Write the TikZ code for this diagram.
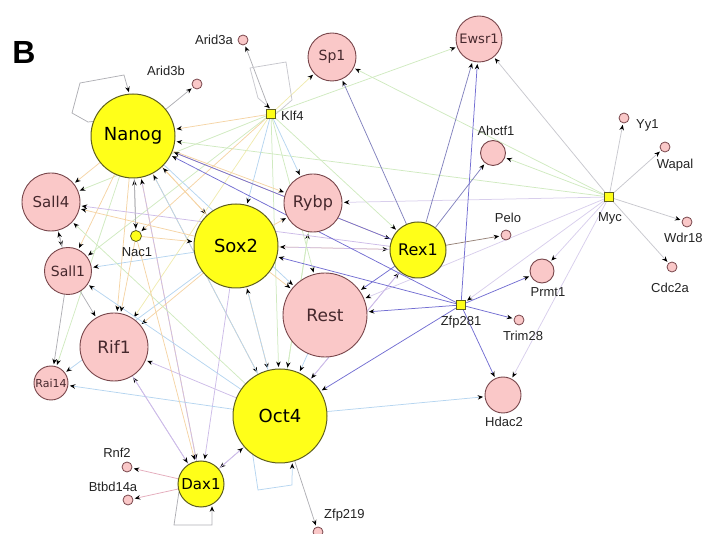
\documentclass[tikz,border=0pt]{standalone}
\usepackage{fontspec}
\setmainfont{DejaVu Sans}
\newfontfamily\smallf{Liberation Sans}
\usetikzlibrary{arrows.meta,backgrounds}
\definecolor{ny}{RGB}{255,255,25}
\definecolor{nyb}{RGB}{95,95,30}
\definecolor{np}{RGB}{250,200,200}
\definecolor{npb}{RGB}{120,70,75}
\definecolor{ntxt}{RGB}{70,40,45}
\definecolor{oE}{RGB}{245,212,165}
\definecolor{bE}{RGB}{182,213,240}
\definecolor{gE}{RGB}{208,234,192}
\definecolor{pE}{RGB}{115,110,210}
\definecolor{mE}{RGB}{130,130,190}
\definecolor{lE}{RGB}{205,188,232}
\definecolor{gyE}{RGB}{175,175,180}
\definecolor{mg}{RGB}{200,200,206}
\definecolor{ml}{RGB}{216,206,236}
\definecolor{yE}{RGB}{240,235,175}
\definecolor{rE}{RGB}{228,172,188}
\definecolor{bnE}{RGB}{150,130,120}
\tikzset{
  ynode/.style={circle, draw=nyb, fill=ny, line width=1pt, inner sep=0pt, text=black},
  pnode/.style={circle, draw=npb, fill=np, line width=0.9pt, inner sep=0pt, text=ntxt},
  smallc/.style={circle, draw=npb, fill=np, line width=0.8pt, minimum size=10pt, inner sep=0pt},
  ysq/.style={rectangle, draw=nyb, fill=ny, line width=0.8pt, minimum size=9pt, inner sep=0pt},
  ycirc/.style={circle, draw=nyb, fill=ny, line width=0.8pt, minimum size=11pt, inner sep=0pt},
  lab/.style={font=\smallf\fontsize{13}{13}\selectfont, text={rgb,255:red,35;green,35;blue,35}, inner sep=0pt},
  e/.style={line width=0.75pt, -{Stealth[length=5.5pt,width=4.5pt,black]}, shorten >=1.5pt},
  fs/.style={font=\fontsize{#1}{#1}\selectfont}
}
\begin{document}
\begin{tikzpicture}[x=1pt,y=-1pt]
\useasboundingbox (0,0) rectangle (702,534);
% big nodes
\node[ynode, minimum size=84pt, fs=18] (Nanog) at (133,136) {Nanog};
\node[ynode, minimum size=84pt, fs=18] (Sox2) at (236,246) {Sox2};
\node[ynode, minimum size=94pt, fs=18] (Oct4) at (280,416) {Oct4};
\node[ynode, minimum size=46pt, fs=15] (Dax1) at (201,484) {Dax1};
\node[ynode, minimum size=56pt, fs=16] (Rex1) at (418,250) {Rex1};
\node[pnode, minimum size=84pt, fs=17] (Rest) at (325,315) {Rest};
\node[pnode, minimum size=58pt, fs=16] (Rybp) at (313,203) {Rybp};
\node[pnode, minimum size=48pt, fs=14] (Sp1) at (332,57) {Sp1};
\node[pnode, minimum size=46pt, fs=13] (Ewsr1) at (479,39) {Ewsr1};
\node[pnode, minimum size=58pt, fs=15] (Sall4) at (51,202) {Sall4};
\node[pnode, minimum size=47pt, fs=14] (Sall1) at (68,271) {Sall1};
\node[pnode, minimum size=68pt, fs=17] (Rif1) at (114,347) {Rif1};
\node[pnode, minimum size=34pt, fs=11] (Rai14) at (51,383) {Rai14};
\node[pnode, minimum size=25pt] (Ahctf1) at (493,153) {};
\node[pnode, minimum size=36pt] (Hdac2) at (503,395) {};
\node[pnode, minimum size=24pt] (Prmt1) at (542,271) {};
% small nodes
\node[smallc] (Arid3a) at (243,40) {};
\node[smallc] (Arid3b) at (197,84) {};
\node[ysq] (Klf4) at (271,114) {};
\node[ycirc] (Nac1) at (136,236) {};
\node[smallc] (Pelo) at (506,235) {};
\node[ysq] (Zfp281) at (461,305) {};
\node[smallc] (Trim28) at (519,320) {};
\node[ysq] (Myc) at (609,197) {};
\node[smallc] (Yy1) at (624,118) {};
\node[smallc] (Wapal) at (665,147) {};
\node[smallc] (Wdr18) at (687,222) {};
\node[smallc] (Cdc2a) at (672,267) {};
\node[smallc] (Rnf2) at (127,467) {};
\node[smallc] (Btbd14a) at (128,500) {};
\node[smallc] (Zfp219) at (318,532) {};
% labels
\node[lab, anchor=east] (lArid3a) at (233,40) {Arid3a};
\node[lab] (lArid3b) at (166,71) {Arid3b};
\node[lab, anchor=west] (lKlf4) at (281,116) {Klf4};
\node[lab] (lNac1) at (137,252) {Nac1};
\node[lab] (lAhctf1) at (496,131) {Ahctf1};
\node[lab] (lPelo) at (508,218) {Pelo};
\node[lab] (lZfp281) at (461,322) {Zfp281};
\node[lab] (lTrim28) at (523,336) {Trim28};
\node[lab] (lPrmt1) at (548,292) {Prmt1};
\node[lab] (lHdac2) at (504,422) {Hdac2};
\node[lab] (lMyc) at (610,218) {Myc};
\node[lab, anchor=west] (lYy1) at (636,125) {Yy1};
\node[lab] (lWapal) at (675,165) {Wapal};
\node[lab, anchor=west] (lWdr18) at (664,238) {Wdr18};
\node[lab] (lCdc2a) at (670,288) {Cdc2a};
\node[lab] (lRnf2) at (117,453) {Rnf2};
\node[lab] (lBtbd14a) at (113,487) {Btbd14a};
\node[lab, anchor=west] (lZfp219) at (324,515) {Zfp219};
\node[font=\smallf\bfseries\fontsize{32}{32}\selectfont, inner sep=0pt] (B) at (24,52) {B};
% edges
\begin{scope}[on background layer]
\foreach \a/\b/\c in {
 Myc/Zfp281/ml, Myc/Yy1/mg, Myc/Wapal/mg, Myc/Wdr18/mg, Myc/Cdc2a/mg, Myc/Prmt1/ml,
 Myc/Ewsr1/mg, Myc/Ahctf1/gE, Myc/Rybp/ml, Myc/Hdac2/ml, Myc/Sp1/gE, Myc/Rest/ml,
 Myc/Nanog/gE,
 Klf4/Arid3a/gyE, Klf4/Sp1/yE, Klf4/Ewsr1/gE, Klf4/Sall4/gE, Klf4/Nac1/oE, Klf4/Sox2/bE,
 Klf4/Rif1/yE, Klf4/Rest/gE, Klf4/Rex1/gE, Klf4/Rybp/bE, Klf4/Sall1/gE, Klf4/Oct4/gE,
 Klf4/Nanog/oE,
 Nanog/Sall4/oE, Nanog/Sall1/oE, Nanog/Rif1/oE, Nanog/Rai14/gE, Nanog/Arid3b/gyE,
 Nanog/Dax1/oE, Nanog/Oct4/oE, Nanog/Sox2/oE, Nanog/Rybp/oE, Nanog/Rest/bE, Nanog/Rex1/oE,
 Nac1/Nanog/gyE, Sox2/Nanog/oE, Oct4/Nanog/bE, Dax1/Nanog/lE,
 Sox2/Sall4/oE, Sox2/Sall1/bE, Sox2/Rif1/oE, Sox2/Rai14/bE, Sox2/Dax1/lE, Sox2/Oct4/oE,
 Sox2/Rest/oE, Sox2/Rybp/oE, Sox2/Rex1/oE, Nac1/Sox2/oE, Rex1/Sox2/lE,
 Oct4/Sox2/bE, Oct4/Dax1/lE, Oct4/Rif1/lE, Oct4/Rai14/bE, Oct4/Hdac2/bE, Oct4/Zfp219/gyE,
 Oct4/Rybp/gE, Oct4/Rex1/lE, Oct4/Sall4/gE, Oct4/Sall1/bE,
 Rest/Oct4/bE, Rex1/Oct4/lE, Dax1/Oct4/lE, Rybp/Oct4/gE,
 Dax1/Rnf2/rE, Dax1/Btbd14a/rE, Dax1/Rif1/lE, Nac1/Dax1/oE, Rif1/Dax1/lE, Nac1/Rif1/oE,
 Sall4/Sall1/gyE, Sall1/Sall4/gyE, Sall1/Rai14/gyE, Sall1/Rif1/gyE, Nanog/Nac1/gyE,
 Rex1/Sp1/mE, Rex1/Ewsr1/mE, Rex1/Ahctf1/mE, Rex1/Pelo/bnE, Rex1/Rest/pE, Rex1/Sall4/lE,
 Rex1/Nanog/pE,
 Zfp281/Ewsr1/pE, Zfp281/Prmt1/pE, Zfp281/Trim28/pE, Zfp281/Hdac2/pE, Zfp281/Rest/pE,
 Zfp281/Oct4/pE, Zfp281/Sox2/pE, Zfp281/Nanog/pE}
 \draw[e, draw=\c] (\a) -- (\b);
% self loops
\draw[e, draw=gyE] (Nanog.160) -- (88,122) -- (72,113) -- (80,83) -- (124,75) -- (Nanog.95);
\draw[e, draw=gyE] (Dax1.200) -- (174,525) -- (212,525) -- (Dax1.-62);
\draw[e, draw=bE] (Oct4.235) -- (258,490) -- (292,485) -- (Oct4.-75);
\draw[e, draw=mg] (Klf4.east) -- (292,100) -- (286,62) -- (250,68) -- (258,98) -- (Klf4.north);
\end{scope}
\end{tikzpicture}
\end{document}
